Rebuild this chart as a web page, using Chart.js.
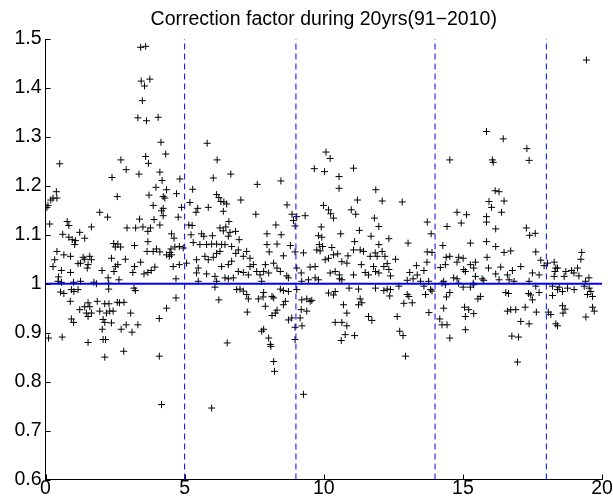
<!DOCTYPE html>
<html><head><meta charset="utf-8">
<script src="https://cdn.jsdelivr.net/npm/chart.js@4.4.1/dist/chart.umd.min.js"></script>
<style>html,body{margin:0;padding:0;background:#fff;}canvas{display:block;}</style>
</head><body>
<canvas id="c" width="613" height="504"></canvas>
<script>
const titleText = 'Correction factor during 20yrs(91\u22122010)';
const xTicks = [0, 5, 10, 15, 20];
const yTicks = [0.6, 0.7, 0.8, 0.9, 1.0, 1.1, 1.2, 1.3, 1.4, 1.5];
const periodBreaks = [5, 9, 14, 18];
const refLevel = 1;

// years 0-4 (upper / lower halves)
const ptsAHi = [[3.42,1.483],[3.60,1.485],[3.44,1.414],[3.75,1.418],[3.56,1.404],[3.48,1.374],[3.32,1.339],[3.63,1.333],[3.60,1.260],[3.70,1.246],[0.51,1.245],[2.71,1.253],[2.90,1.233],[2.39,1.217],[3.36,1.224],[0.39,1.188],[0.27,1.175],[0.19,1.171],[0.41,1.175],[0.09,1.160],[0.05,1.156],[2.58,1.178],[3.72,1.181],[1.95,1.146],[2.23,1.136],[0.15,1.122],[0.78,1.127],[0.84,1.119],[0.62,1.101],[1.65,1.116],[1.23,1.105],[0.84,1.095],[0.96,1.090],[1.08,1.088],[1.05,1.080],[1.41,1.093],[2.93,1.114],[3.24,1.114],[3.50,1.116],[3.77,1.114],[3.38,1.132],[3.68,1.107],[2.45,1.082],[2.60,1.081],[2.51,1.075],[2.70,1.075],[3.20,1.078],[3.68,1.086],[3.65,1.066],[0.41,1.066]];
const ptsALo = [[0.66,1.059],[0.90,1.056],[1.35,1.054],[1.59,1.056],[1.65,1.049],[2.37,1.052],[2.87,1.050],[0.33,1.049],[0.27,1.035],[0.57,1.027],[0.90,1.023],[1.17,1.041],[1.26,1.042],[1.53,1.039],[1.50,1.032],[1.41,1.050],[2.51,1.035],[2.60,1.039],[2.46,1.025],[2.03,1.027],[3.20,1.035],[3.42,1.044],[3.14,1.023],[3.54,1.020],[3.68,1.023],[3.80,1.027],[0.47,1.014],[0.45,1.005],[0.57,1.003],[1.01,1.003],[1.26,1.005],[1.83,1.000],[1.74,1.003],[2.25,1.012],[2.64,1.008],[2.27,1.001],[0.54,0.983],[0.66,0.980],[0.93,0.988],[1.02,0.984],[1.17,0.988],[0.89,0.964],[2.27,0.989],[3.18,0.991],[3.23,0.986],[1.23,0.947],[1.41,0.953],[1.53,0.961],[1.59,0.953],[1.86,0.964],[2.13,0.959],[2.28,0.959],[2.58,0.962],[2.66,0.961],[2.82,0.962],[1.47,0.940],[1.53,0.933],[1.65,0.940],[1.95,0.944],[2.19,0.940],[2.31,0.944],[2.43,0.944],[3.06,0.940],[0.93,0.928],[1.01,0.921],[2.07,0.927],[2.13,0.921],[2.37,0.920],[2.90,0.916],[2.72,0.907],[3.32,0.916],[3.11,0.901],[2.04,0.907],[0.11,0.889],[0.60,0.891],[1.53,0.880],[2.07,0.886],[2.16,0.886],[2.13,0.850],[2.81,0.862]];
// years 4-8
const ptsBHi = [[4.05,1.340],[4.15,1.289],[4.32,1.265],[5.81,1.287],[6.17,1.253],[4.11,1.228],[4.19,1.211],[4.83,1.214],[6.66,1.224],[6.03,1.216],[7.61,1.203],[3.97,1.197],[4.35,1.192],[4.23,1.178],[4.71,1.184],[4.29,1.175],[5.29,1.193],[6.15,1.182],[6.23,1.176],[7.02,1.171],[6.30,1.168],[6.41,1.167],[6.51,1.163],[3.87,1.160],[4.23,1.154],[4.17,1.149],[4.89,1.156],[5.19,1.166],[5.47,1.154],[5.41,1.146],[5.85,1.156],[6.39,1.148],[7.56,1.142],[4.23,1.139],[4.77,1.136],[3.90,1.131],[4.11,1.120],[5.15,1.120],[5.27,1.119],[6.59,1.127],[6.48,1.116],[6.27,1.114],[6.39,1.108],[4.53,1.102],[4.62,1.093],[5.23,1.100],[5.61,1.102],[5.69,1.097],[6.00,1.098],[6.63,1.105],[6.83,1.107],[6.57,1.097],[6.96,1.090],[3.99,1.071],[4.51,1.071],[4.65,1.075],[4.81,1.076],[4.95,1.073],[5.31,1.084],[5.55,1.080],[5.79,1.080],[5.97,1.081],[6.15,1.081],[6.33,1.080],[6.45,1.080],[6.69,1.076],[6.93,1.069],[7.23,1.066],[4.11,1.065],[4.47,1.064]];
const ptsBLo = [[3.87,1.066],[3.93,1.034],[4.35,1.059],[4.45,1.056],[4.53,1.059],[4.59,1.035],[4.69,1.010],[4.81,1.039],[5.07,1.042],[5.43,1.049],[5.49,1.032],[5.73,1.056],[5.85,1.049],[6.03,1.054],[6.15,1.062],[6.27,1.066],[6.33,1.035],[6.57,1.039],[6.69,1.046],[5.43,1.022],[5.79,1.020],[6.09,1.015],[6.15,1.005],[6.45,1.012],[6.57,1.010],[6.75,1.012],[6.93,1.025],[7.11,1.023],[7.29,1.018],[7.35,1.035],[7.47,1.039],[7.59,1.025],[7.71,1.018],[7.77,1.005],[6.87,0.988],[6.99,0.989],[7.11,0.985],[7.23,0.978],[7.29,0.969],[7.65,0.969],[7.82,0.973],[6.84,1.062],[7.11,1.056],[7.35,1.052],[6.09,0.993],[5.49,1.005],[6.23,0.967],[4.69,0.971],[4.35,0.950],[4.09,0.929],[7.25,0.942],[7.77,0.903],[6.53,0.879],[4.09,0.852],[4.17,0.753],[5.97,0.746]];
// years 8-12
const ptsCHi = [[10.08,1.269],[10.23,1.256],[9.66,1.235],[10.03,1.229],[11.07,1.236],[10.55,1.219],[10.55,1.195],[8.46,1.210],[11.87,1.192],[11.21,1.171],[8.68,1.161],[9.99,1.160],[10.17,1.151],[10.25,1.143],[10.35,1.134],[10.99,1.151],[11.15,1.142],[8.86,1.142],[9.03,1.137],[9.33,1.139],[8.91,1.129],[11.82,1.134],[8.97,1.118],[8.28,1.120],[7.96,1.102],[8.47,1.100],[9.91,1.116],[9.81,1.098],[9.93,1.095],[10.61,1.102],[11.28,1.109],[11.70,1.097],[7.96,1.080],[8.32,1.081],[8.80,1.078],[9.84,1.080],[9.96,1.076],[10.29,1.074],[11.11,1.086],[11.07,1.069],[11.31,1.069],[11.43,1.066],[9.75,1.069],[8.04,1.065],[8.97,1.065],[9.27,1.063]];
const ptsCLo = [[8.55,1.057],[9.87,1.067],[10.35,1.059],[10.50,1.061],[10.87,1.057],[11.67,1.056],[11.85,1.063],[7.90,1.039],[8.20,1.042],[8.32,1.032],[7.84,1.025],[8.02,1.022],[8.44,1.025],[8.67,1.016],[8.73,1.012],[9.03,1.032],[9.19,1.022],[9.51,1.034],[9.69,1.035],[10.05,1.049],[10.17,1.052],[10.65,1.045],[10.83,1.042],[10.23,1.022],[10.41,1.025],[10.56,1.018],[10.57,1.010],[11.07,1.018],[11.35,1.039],[11.49,1.023],[11.61,1.018],[11.79,1.035],[9.45,1.008],[9.69,1.012],[9.81,1.008],[9.21,1.005],[10.65,1.008],[7.84,0.982],[8.14,0.974],[8.20,0.971],[8.44,0.989],[8.55,0.986],[8.73,0.984],[9.03,0.988],[9.39,0.969],[9.51,0.964],[9.57,0.966],[9.21,0.967],[10.17,0.981],[10.35,0.977],[10.41,0.984],[10.91,0.991],[11.25,0.989],[11.31,0.969],[7.90,0.954],[8.32,0.946],[8.26,0.940],[8.62,0.964],[8.55,0.957],[10.71,0.957],[10.83,0.940],[11.25,0.957],[11.37,0.961],[11.61,0.933],[11.73,0.925],[9.19,0.947],[9.39,0.944],[9.15,0.930],[8.85,0.930],[8.73,0.926],[8.14,0.935],[9.22,0.914],[8.97,0.911],[10.41,0.921],[10.65,0.921],[10.83,0.914],[10.77,0.896],[10.63,0.884],[11.11,0.894],[7.84,0.907],[8.02,0.889],[8.08,0.876],[8.10,0.872],[8.97,0.886],[8.20,0.841],[8.23,0.821],[9.27,0.774]];
// years 12-16
const ptsDHi = [[15.85,1.311],[14.53,1.253],[12.10,1.169],[12.82,1.167],[14.79,1.146],[15.13,1.141],[15.85,1.137],[15.85,1.126],[11.98,1.117],[13.72,1.126],[14.43,1.117],[14.94,1.124],[13.86,1.102],[12.34,1.092],[11.98,1.080],[13.03,1.083],[14.28,1.078],[15.27,1.083],[15.85,1.086],[12.10,1.066],[13.72,1.065],[13.89,1.064]];
const ptsDLo = [[12.20,1.056],[11.92,1.056],[12.58,1.050],[12.28,1.041],[12.34,1.029],[12.40,1.016],[12.16,1.035],[11.86,1.025],[11.98,1.022],[13.33,1.037],[13.09,1.023],[13.36,1.018],[13.71,1.044],[13.60,1.027],[13.48,1.005],[13.00,1.007],[13.21,1.010],[14.19,1.033],[14.37,1.039],[14.40,1.054],[14.53,1.056],[14.85,1.054],[15.01,1.052],[14.79,1.044],[15.03,1.029],[15.09,1.025],[15.27,1.039],[15.39,1.032],[15.45,1.044],[15.45,1.015],[15.69,1.010],[15.87,1.054],[14.31,1.005],[14.67,1.012],[14.79,1.010],[14.85,1.001],[15.37,1.001],[15.75,1.007],[13.77,1.005],[12.28,0.989],[12.40,0.988],[12.16,0.986],[12.37,0.975],[11.86,0.991],[12.70,0.995],[13.00,0.978],[13.06,0.974],[12.88,0.960],[13.18,0.961],[13.60,0.995],[13.66,0.978],[13.84,0.988],[13.89,0.985],[14.25,1.001],[14.37,0.998],[14.53,0.982],[14.41,0.973],[15.01,0.993],[15.27,0.993],[15.39,0.998],[15.54,0.969],[15.63,0.974],[13.78,0.941],[12.64,0.933],[14.31,0.950],[15.06,0.952],[15.21,0.947],[15.39,0.939],[15.09,0.933],[12.73,0.903],[12.85,0.894],[12.94,0.852],[14.17,0.928],[14.25,0.916],[14.43,0.916],[14.53,0.889],[15.09,0.906]];
// years 16-20
const ptsEHi = [[19.44,1.457],[16.45,1.296],[17.30,1.276],[16.06,1.253],[16.09,1.248],[17.38,1.252],[16.16,1.190],[16.30,1.188],[15.94,1.168],[16.48,1.169],[16.03,1.156],[16.39,1.146],[16.18,1.112],[17.28,1.114],[17.40,1.099],[17.60,1.103],[16.18,1.076],[16.72,1.067],[16.48,1.064],[17.62,1.065],[19.27,1.064]];
const ptsELo = [[19.24,1.050],[16.36,1.034],[17.08,1.035],[16.78,1.027],[17.80,1.048],[18.04,1.042],[18.28,1.044],[17.92,1.037],[18.40,1.032],[18.31,1.025],[18.34,1.032],[18.70,1.025],[18.91,1.027],[18.99,1.022],[19.12,1.032],[19.17,1.016],[18.64,1.015],[18.28,1.015],[17.50,1.022],[17.74,1.018],[16.60,1.018],[16.18,1.020],[16.84,1.005],[16.66,1.008],[16.30,1.008],[15.92,1.032],[17.38,1.005],[19.53,1.012],[19.41,1.005],[16.54,0.982],[16.64,0.980],[17.36,0.980],[17.44,0.977],[17.74,0.982],[17.50,0.967],[17.62,0.995],[18.22,0.976],[18.40,0.988],[18.58,0.984],[18.76,0.991],[19.00,0.988],[19.36,0.995],[19.54,0.991],[19.60,0.984],[19.48,0.978],[19.66,0.974],[18.22,0.995],[18.46,0.993],[18.58,0.955],[18.67,0.948],[18.60,0.940],[19.66,0.952],[19.72,0.944],[19.42,0.932],[16.60,0.944],[16.72,0.947],[16.90,0.947],[17.24,0.952],[17.64,0.942],[18.07,0.942],[18.16,0.937],[17.08,0.923],[17.38,0.918],[18.34,0.918],[18.40,0.914],[16.76,0.893],[17.00,0.891],[16.96,0.840]];

const allPts = [].concat(ptsAHi, ptsALo, ptsBHi, ptsBLo, ptsCHi, ptsCLo, ptsDHi, ptsDLo, ptsEHi, ptsELo)
  .map(([x, y]) => ({x, y}));

const yMin = yTicks[0], yMax = yTicks[yTicks.length - 1];
const xMin = xTicks[0], xMax = xTicks[xTicks.length - 1];

const datasets = [];
datasets.push({
  type: 'line', order: 0,
  data: [{x: xMin, y: refLevel}, {x: xMax, y: refLevel}],
  borderColor: '#0000ff', borderWidth: 2, pointRadius: 0, fill: false
});
periodBreaks.forEach(b => datasets.push({
  type: 'line', order: 0,
  data: [{x: b, y: yMin}, {x: b, y: yMax}],
  borderColor: '#0000ff', borderWidth: 1, borderDash: [6, 4], pointRadius: 0, fill: false
}));
datasets.push({
  type: 'scatter', order: 1,
  data: allPts,
  pointStyle: 'cross', pointRadius: 3.5, pointBorderWidth: 1,
  borderColor: '#000000', backgroundColor: '#000000', pointHoverRadius: 3.5
});

const fontFamily = '"Liberation Sans", Arial, Helvetica, sans-serif';
const fontSize = 19.5;

const insideTicks = {
  id: 'insideTicks',
  afterDraw(chart) {
    const {ctx, chartArea: a, scales: {x, y}} = chart;
    ctx.save();
    ctx.strokeStyle = '#000';
    ctx.lineWidth = 1;
    ctx.beginPath();
    xTicks.forEach(v => {
      const px = Math.round(x.getPixelForValue(v)) + 0.5;
      ctx.moveTo(px, a.bottom); ctx.lineTo(px, a.bottom - 5);
    });
    yTicks.forEach(v => {
      const py = Math.round(y.getPixelForValue(v)) + 0.5;
      ctx.moveTo(a.left, py); ctx.lineTo(a.left + 5, py);
    });
    ctx.stroke();
    // title centred over the axes
    ctx.fillStyle = '#000';
    ctx.font = fontSize + 'px ' + fontFamily;
    ctx.textAlign = 'center';
    ctx.textBaseline = 'alphabetic';
    ctx.fillText(titleText, (a.left + a.right) / 2, 25);
    ctx.restore();
  }
};

new Chart(document.getElementById('c'), {
  data: {datasets},
  plugins: [insideTicks],
  options: {
    responsive: false,
    animation: false,
    devicePixelRatio: 1,
    events: [],
    layout: {padding: {left: 0, right: 11, top: 39, bottom: 0}},
    plugins: {
      legend: {display: false},
      tooltip: {enabled: false},
      title: {display: false}
    },
    scales: {
      x: {
        type: 'linear', min: xMin, max: xMax,
        afterBuildTicks: s => { s.ticks = xTicks.map(v => ({value: v})); },
        afterFit: s => { s.height = 24.5; },
        grid: {display: false, drawTicks: false},
        border: {display: true, color: '#000', width: 1},
        ticks: {color: '#000', padding: -3, maxRotation: 0, autoSkip: false,
          font: {family: fontFamily, size: fontSize},
          callback: v => String(v)}
      },
      y: {
        type: 'linear', min: yMin, max: yMax,
        afterBuildTicks: s => { s.ticks = yTicks.map(v => ({value: v})); },
        afterFit: s => { s.width = 45.5; },
        grid: {display: false, drawTicks: false},
        border: {display: true, color: '#000', width: 1},
        ticks: {color: '#000', padding: 4, autoSkip: false,
          font: {family: fontFamily, size: fontSize},
          callback: v => String(+Number(v).toFixed(1))}
      }
    }
  }
});
</script>
</body></html>
